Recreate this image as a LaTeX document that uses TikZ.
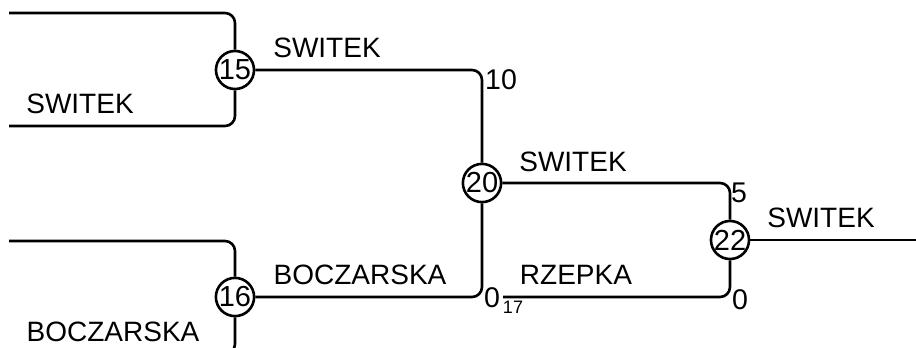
\documentclass[tikz,border=0pt]{standalone}
\usepackage{fontspec}
\setmainfont{Liberation Sans}
\begin{document}
\begin{tikzpicture}[x=1pt,y=-1pt,
  wire/.style={line width=2.6pt,rounded corners=10pt},
  rnd/.style={circle,draw,line width=2.6pt,minimum size=37pt,inner sep=0pt,fill=white,font=\fontsize{29}{29}\selectfont},
  lbl/.style={inner sep=0pt,anchor=center,font=\fontsize{28}{28}\selectfont},
  num/.style={inner sep=0pt,anchor=center,font=\fontsize{28.5}{28.5}\selectfont},
  sub/.style={inner sep=0pt,anchor=center,font=\fontsize{18}{18}\selectfont}]
\useasboundingbox (0,0) rectangle (916,348);
\clip (0,0) rectangle (916,348);
% junction circles
\node[rnd] (c15) at (235,70) {15};
\node[rnd] (c16) at (235,297) {16};
\node[rnd] (c20) at (482,183) {20};
\node[rnd] (c22) at (730,240) {22};
% free ends
\coordinate (a1) at (9,13);
\coordinate (a2) at (9,126);
\coordinate (b1) at (9,241);
\coordinate (b2) at (9,354);
\coordinate (r0) at (503,297);
\coordinate (e) at (916,240);
% connectors
\draw[wire] (a1) -| (c15.north);
\draw[wire] (a2) -| (c15.south);
\draw[wire] (b1) -| (c16.north);
\draw[wire] (b2) -| (c16.south);
\draw[wire] (c15.east) -| (c20.north);
\draw[wire] (c16.east) -| (c20.south);
\draw[wire] (c20.east) -| (c22.north);
\draw[wire] (r0) -| (c22.south);
\draw[wire] (c22.east) -- (e);
% labels
\node[lbl] (t1) at (327,48) {SWITEK};
\node[lbl] (t2) at (80,104) {SWITEK};
\node[lbl] (t3) at (360,275) {BOCZARSKA};
\node[lbl] (t4) at (113,332) {BOCZARSKA};
\node[lbl] (t5) at (573,162) {SWITEK};
\node[lbl] (t6) at (576,275) {RZEPKA};
\node[lbl] (t7) at (821,218) {SWITEK};
\node[num] (n10) at (501,80) {10};
\node[num] (n0a) at (492,298) {0};
\node[sub] (n17) at (513,307) {17};
\node[num] (n5) at (739,193) {5};
\node[num] (n0b) at (740,300) {0};
\end{tikzpicture}
\end{document}
